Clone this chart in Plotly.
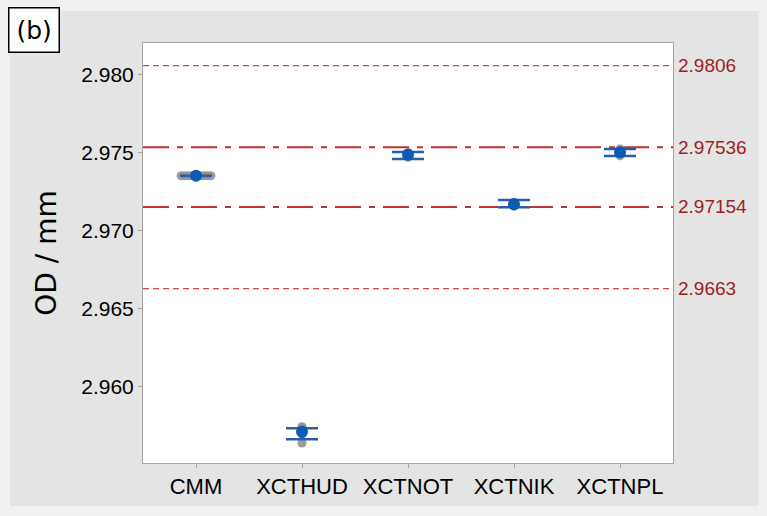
import plotly.graph_objects as go

# Groups measured
groups = ["CMM", "XCTHUD", "XCTNOT", "XCTNIK", "XCTNPL"]

# Group means and confidence interval limits (mm)
means = [2.97354, 2.95713, 2.97489, 2.97171, 2.97504]
ci_low = [2.97354, 2.95665, 2.97462, 2.97152, 2.97481]
ci_high = [2.97354, 2.95735, 2.97506, 2.97199, 2.97526]

# Individual measured values per group (mm)
indiv_cmm = [2.97354] * 8
indiv_xcthud = [2.95641, 2.95698, 2.95712, 2.95724, 2.95738, 2.95745]
indiv_xctnot = [2.97472, 2.97484, 2.97490, 2.97497, 2.97503]
indiv_xctnik = [2.97158, 2.97165, 2.97172, 2.97178, 2.97184]
indiv_xctnpl = [2.97482, 2.97496, 2.97505, 2.97515, 2.97526]
individuals = [indiv_cmm, indiv_xcthud, indiv_xctnot, indiv_xctnik, indiv_xctnpl]

# Reference limits drawn across the plot
limit_values = [2.9806, 2.97536, 2.97154, 2.9663]
limit_labels = ["2.9806", "2.97536", "2.97154", "2.9663"]
limit_kinds = ["short", "dashdot", "dashdot", "short"]

SANS = "Liberation Sans, Arial, sans-serif"

fig = go.Figure()

# Individual values: identical readings are stacked side by side
stack_step = 0.04
ind_x, ind_y = [], []
for gi, vals in enumerate(individuals):
    counts = {}
    for v in vals:
        counts[v] = counts.get(v, 0) + 1
    seen = {}
    for v in vals:
        n = counts[v]
        k = seen.get(v, 0)
        seen[v] = k + 1
        ind_x.append(gi + (k - (n - 1) / 2) * stack_step)
        ind_y.append(v)

fig.add_trace(go.Scatter(
    x=ind_x, y=ind_y, mode="markers",
    marker=dict(size=9, color="rgba(140,140,140,0.85)", line=dict(width=0)),
    showlegend=False, hoverinfo="y",
))

# Means with interval bars
fig.add_trace(go.Scatter(
    x=list(range(len(groups))), y=means, mode="markers",
    marker=dict(size=12, color="#0b5bb3"),
    error_y=dict(
        type="data", symmetric=False,
        array=[h - m for h, m in zip(ci_high, means)],
        arrayminus=[m - l for m, l in zip(means, ci_low)],
        color="#2a5ea8", thickness=2.5, width=16,
    ),
    showlegend=False,
))

# Reference limit lines with labels at the right
for v, lab, kind in zip(limit_values, limit_labels, limit_kinds):
    if kind == "short":
        line = dict(color="#d9444a", width=1.3, dash="6px,4px")
    else:
        line = dict(color="#c2302f", width=2, dash="26px,8px,6px,8px")
    fig.add_shape(type="line", xref="paper", x0=0, x1=1, yref="y", y0=v, y1=v,
                  line=line, layer="below")
    fig.add_annotation(xref="paper", x=1, xanchor="left", xshift=3,
                       yref="y", y=v, yanchor="middle", text=lab, showarrow=False,
                       font=dict(family=SANS, size=19, color="#a01e1e"))

# Light outer band around the grey panel
fig.add_shape(type="rect", xref="paper", yref="paper",
              x0=-0.27, x1=1.18, y0=-0.126, y1=1.1,
              line=dict(color="#f1f1f1", width=20), fillcolor="rgba(0,0,0,0)",
              layer="above")

# Panel label
fig.add_annotation(xref="paper", yref="paper", x=-0.254, y=1.085,
                   xanchor="left", yanchor="top", text="(b)", showarrow=False,
                   font=dict(family="DejaVu Sans, Verdana, sans-serif", size=25, color="black"),
                   bgcolor="white", bordercolor="black", borderwidth=1.5, borderpad=7)

fig.update_xaxes(
    tickvals=list(range(len(groups))), ticktext=groups, range=[-0.5, 4.5],
    tickangle=0, automargin=False,
    showgrid=False, zeroline=False, showline=True, mirror=True,
    linecolor="#a6a6a6", linewidth=1, ticks="outside", ticklen=4, tickcolor="#a6a6a6",
    tickfont=dict(family=SANS, size=22, color="#000000"),
)
fig.update_yaxes(
    range=[2.955128, 2.98205], tickvals=[2.960, 2.965, 2.970, 2.975, 2.980],
    ticktext=["2.960", "2.965", "2.970", "2.975", "2.980"], automargin=False,
    showgrid=False, zeroline=False, showline=True, mirror=True,
    linecolor="#a6a6a6", linewidth=1, ticks="outside", ticklen=4, tickcolor="#a6a6a6",
    tickfont=dict(family=SANS, size=21, color="#000000"),
    title=dict(text="OD / mm", standoff=16,
               font=dict(family="DejaVu Sans, Verdana, sans-serif", size=28, color="#000000")),
)

fig.update_layout(
    width=767, height=516,
    margin=dict(l=143, r=94, t=43, b=53),
    paper_bgcolor="#e4e4e4", plot_bgcolor="white",
)

fig.write_html("out.html")
